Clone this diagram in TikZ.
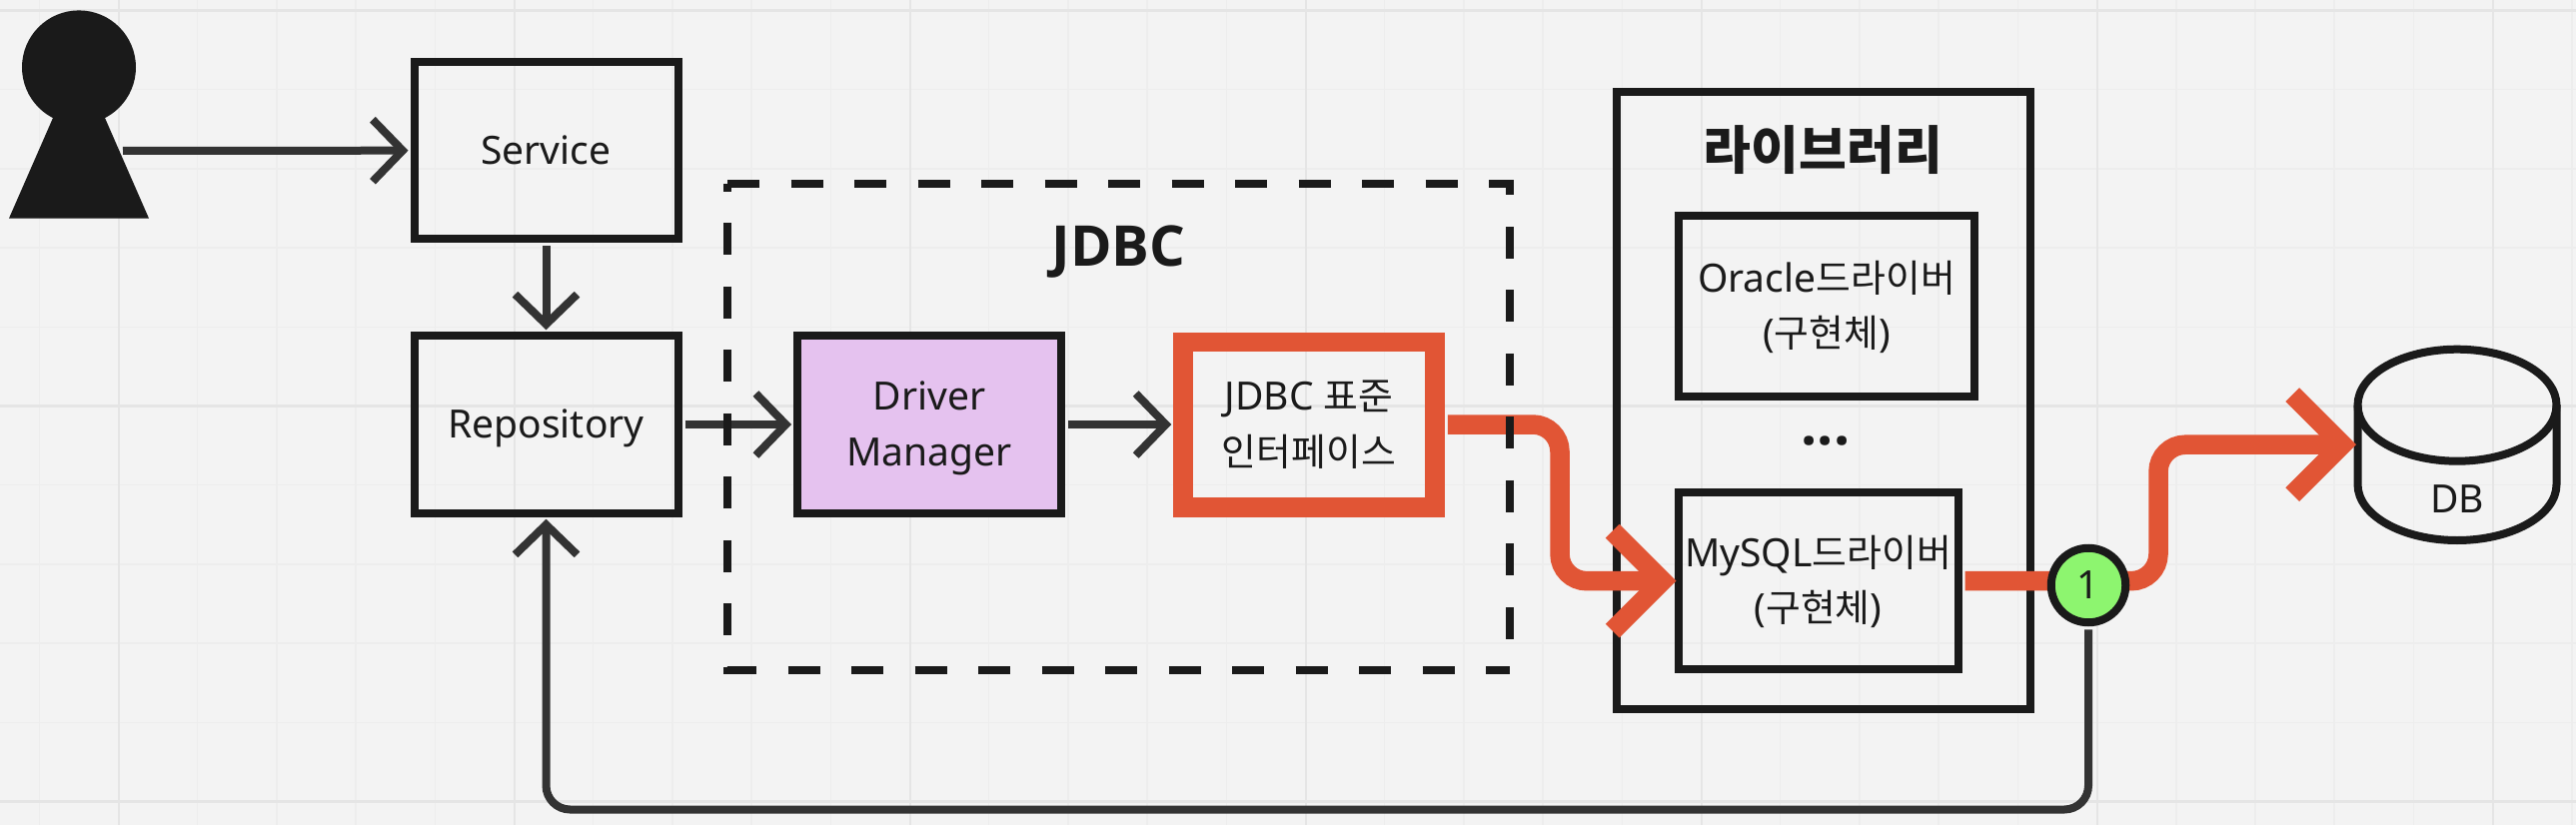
\documentclass[tikz,border=0pt]{standalone}
\usepackage{fontspec}
\setmainfont{Noto Sans}
\newfontfamily\kr{Noto Sans CJK KR}[Scale=.97]
\newfontfamily\head{Open Sans}
\newcommand{\linetop}{\rule{0pt}{.37cm}}
\usetikzlibrary{arrows.meta}
\definecolor{paper}{HTML}{F3F3F3}
\definecolor{ink}{HTML}{1A1A1A}
\definecolor{wire}{HTML}{333333}
\definecolor{hot}{HTML}{E15535}
\definecolor{lilac}{HTML}{E5C2EF}
\definecolor{lime}{HTML}{8DF56F}
\tikzset{
  gridthin/.style={draw=black!7, line width=.015cm},
  gridwide/.style={draw=black!10, line width=.025cm},
  boxnode/.style={draw=ink, line width=.08cm, inner sep=0pt, text=ink, align=center, minimum width=2.64cm, minimum height=1.775cm, font=\fontsize{11.1}{15.7}\selectfont,
    execute at begin node=\rule{0pt}{.37cm}, execute at end node=\rule[-.1cm]{0pt}{.1cm}},
  darkarrow/.style={draw=wire, line width=.08cm, shorten <=.03cm, shorten >=.02cm, -{Straight Barb[length=.3cm,width=.62cm]}},
  redarrow/.style={draw=hot, line width=.195cm, shorten <=.03cm, shorten >=-.02cm, rounded corners=.27cm, -{Straight Barb[length=.5cm,width=1cm]}},
  dashframe/.style={draw=ink, line width=.08cm, dash pattern=on .32cm off .315cm},
  headtext/.style={text=ink, inner sep=0pt, font=\fontsize{16}{18}\selectfont\head\bfseries}
}
\begin{document}
\begin{tikzpicture}[y=-1cm]
\useasboundingbox (0,0) rectangle (25.78,8.26);
\fill[paper] (0,0) rectangle (25.78,8.26);

% grid
\foreach \k in {0,...,32} \draw[gridthin] ({.393+.792*\k},0) -- ++(0,8.26);
\foreach \k in {0,...,10} \draw[gridthin] (0,{.105+.792*\k}) -- ++(25.78,0);
\foreach \k in {0,...,6} \draw[gridwide] ({1.19+3.96*\k},0) -- ++(0,8.26);
\foreach \k in {0,...,2} \draw[gridwide] (0,{.105+3.96*\k}) -- ++(25.78,0);

% user
\fill[ink] (.79,.674) circle [radius=.57];
\fill[ink] (.53,1.18) -- (1.05,1.18) -- (1.49,2.186) -- (.09,2.186) -- cycle;
\coordinate (user) at (1.2,1.51);

\node[boxnode] (service) at (5.465,1.507) {Service};
\node[boxnode] (repo) at (5.465,4.25) {Repository};
\node[boxnode, fill=lilac] (manager) at (9.3,4.25) {\linetop Driver\\Manager};
\node[boxnode, draw=hot, line width=.195cm, minimum width=2.52cm, minimum height=1.655cm] (iface) at (13.1,4.25) {\linetop JDBC {\kr 표준}\\{\kr 인터페이스}};
\node[headtext] (jdbc) at (11.196,2.52) {JDBC};

\node[boxnode, minimum width=4.14cm, minimum height=6.18cm] (library) at (18.25,4.01) {};
\node[headtext, font=\fontsize{15.25}{18}\selectfont\kr\bfseries] (libtitle) at (18.245,1.505) {라이브러리};
\node[boxnode, minimum width=2.96cm, minimum height=1.807cm] (oracle) at (18.28,3.064) {\linetop Oracle{\kr 드라이버}\\({\kr 구현체})};
\node[text=ink, inner sep=0pt, font=\fontsize{16.2}{18}\selectfont\head\bfseries] (dots) at (18.27,4.42) {...};
\node[boxnode, minimum width=2.8cm, minimum height=1.775cm] (mysql) at (18.195,5.817) {\linetop MySQL{\kr 드라이버}\\({\kr 구현체})};

% DB
\node[inner sep=0pt, outer sep=0pt, minimum width=2.06cm, minimum height=1.95cm] (db) at (24.59,4.452) {};
\draw[ink, line width=.08cm] (24.59,4.057) circle [x radius=.995, y radius=.56];
\draw[ink, line width=.08cm] (23.595,4.057) -- (23.595,4.85) arc [start angle=180, end angle=0, x radius=.995, y radius=.56] -- (25.585,4.057);
\node[text=ink, inner sep=0pt, font=\fontsize{11.1}{15.7}\selectfont] (dbtext) at (24.59,5.0) {DB};

\coordinate (bendmysql) at (15.61,5);
\coordinate (benddb) at (21.6,5);

\draw[darkarrow] (user) -- (service.west);
\draw[darkarrow] (service) -- (repo);
\draw[darkarrow] (repo) -- (manager);
\draw[darkarrow] (manager) -- (iface);
\draw[redarrow] (iface.east) -| (bendmysql) |- (mysql.west);
\draw[redarrow] (mysql.east) -| (benddb) |- (db.west);

\node[circle, draw=ink, fill=lime, line width=.08cm, inner sep=0pt, minimum size=.745cm, text=ink, font=\fontsize{11.1}{15.7}\selectfont] (badge) at (20.9,5.86) {1};
\draw[darkarrow, rounded corners=.24cm] (badge.south) -- (20.9,8.105) -| (repo.south);

% dashed frame
\draw[dashframe] (7.28,1.843) -- (15.11,1.843) -- (15.11,6.707);
\draw[dashframe, dash phase=.245cm] (7.28,1.843) -- (7.28,6.707) -- (15.11,6.707);
\end{tikzpicture}
\end{document}
